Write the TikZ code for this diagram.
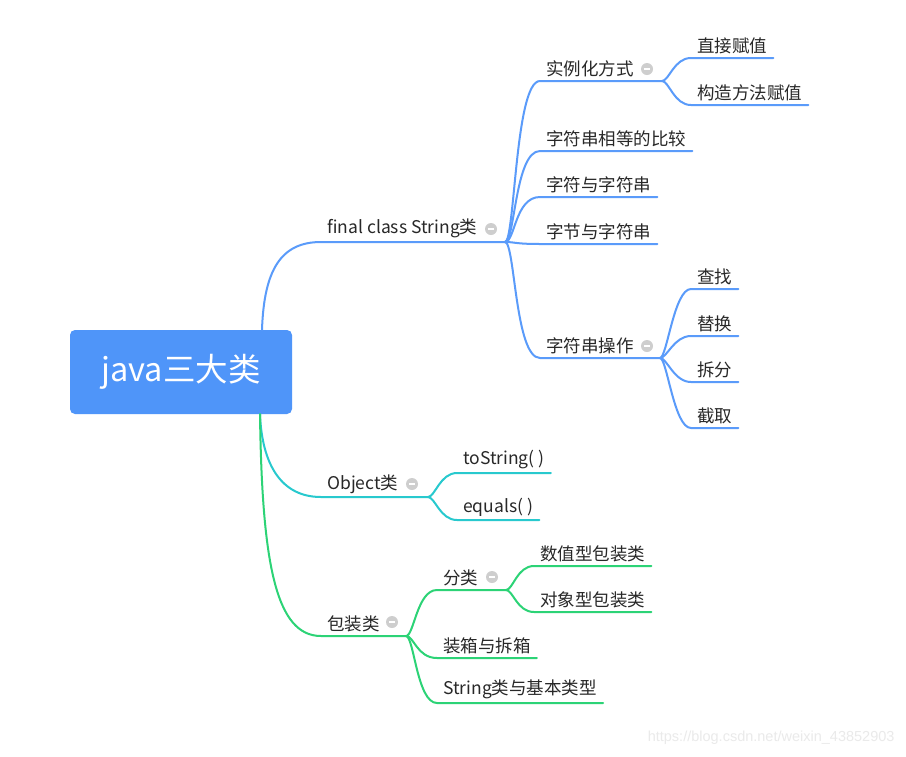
\documentclass[tikz,border=0pt]{standalone}
\usepackage{fontspec}
\setmainfont{Noto Sans CJK SC}
\newfontfamily\wmfont{Liberation Sans}
\definecolor{rootblue}{RGB}{79,149,249}
\definecolor{lineblue}{RGB}{90,155,250}
\definecolor{linecyan}{RGB}{40,201,206}
\definecolor{linegreen}{RGB}{44,211,118}
\definecolor{txt}{RGB}{40,40,40}
\definecolor{foldgray}{RGB}{206,206,206}
\definecolor{wmgray}{RGB}{234,234,234}

\begin{document}
\begin{tikzpicture}[x=1pt, y=-1pt,
    rootbox/.style={fill=rootblue, rounded corners=5pt, minimum width=222pt, minimum height=84pt,
        text=white, font=\fontsize{32.5}{32.5}\selectfont},
    topic/.style={anchor=south west, inner xsep=6pt, inner ysep=3.5pt, text=txt,
        font=\fontsize{17.5}{17.5}\selectfont},
    fold/.style={circle, fill=foldgray, minimum size=12pt, inner sep=0pt,
        path picture={\draw[white, line width=1.4pt]
            ([xshift=-3pt]path picture bounding box.center) -- ([xshift=3pt]path picture bounding box.center);}},
    bl/.style={lineblue, line width=2pt, line cap=round},
    cy/.style={linecyan, line width=2pt, line cap=round},
    gr/.style={linegreen, line width=2pt, line cap=round}]

    \fill[white] (0,0) rectangle (906,756);
    \useasboundingbox (0,0) rectangle (906,756);

    \node[rootbox] (root) at (181,372) {java三大类};

    \node[topic] (str) at (321,242) {final class String类};
    \node[fold] (strf) at (491,229) {};
    \coordinate (strend) at (505,242);
    \node[topic] (inst) at (540,81) {实例化方式};
    \node[fold] (instf) at (647,69) {};
    \coordinate (instend) at (662,81);
    \node[topic] (direct) at (691,58) {直接赋值};
    \node[topic] (ctor) at (691,105) {构造方法赋值};
    \node[topic] (equal) at (540,151) {字符串相等的比较};
    \node[topic] (chars) at (540,197) {字符与字符串};
    \node[topic] (bytes) at (540,244) {字节与字符串};
    \node[topic] (ops) at (540,358) {字符串操作};
    \node[fold] (opsf) at (647,346) {};
    \coordinate (opsend) at (660,358);
    \node[topic] (find) at (691,289) {查找};
    \node[topic] (repl) at (691,336) {替换};
    \node[topic] (split) at (691,382) {拆分};
    \node[topic] (cut) at (691,428) {截取};

    \node[topic] (obj) at (321,497) {Object类};
    \node[fold] (objf) at (412,484) {};
    \coordinate (objend) at (428,497);
    \node[topic] (tostr) at (457,473) {toString( )};
    \node[topic] (eq) at (457,520) {equals( )};

    \node[topic] (wrap) at (321,636) {包装类};
    \node[fold] (wrapf) at (392,622) {};
    \coordinate (wrapend) at (406,636);
    \node[topic] (kind) at (437,590) {分类};
    \node[fold] (kindf) at (492,577) {};
    \coordinate (kindend) at (506,590);
    \node[topic] (num) at (534,566) {数值型包装类};
    \node[topic] (objw) at (534,612) {对象型包装类};
    \node[topic] (box) at (437,658) {装箱与拆箱};
    \node[topic] (strbase) at (437,703) {String类与基本类型};

    \draw[bl] ([xshift=81pt]root.north) .. controls +(2,-60) and +(-40,0) .. (str.south west) -- (strend);
    \draw[bl] (strend) .. controls +(10,0) and +(-25,0) .. (inst.south west) -- (instend);
    \draw[bl] (strend) .. controls +(10,0) and +(-25,0) .. (ops.south west) -- (opsend);
    \foreach \n in {equal,chars,bytes}
        \draw[bl] (strend) .. controls +(10,0) and +(-25,0) .. (\n.south west) -- (\n.south east);
    \foreach \n in {direct,ctor}
        \draw[bl] (instend) .. controls +(7,0) and +(-17,0) .. (\n.south west) -- (\n.south east);
    \foreach \n in {find,repl,split,cut}
        \draw[bl] (opsend) .. controls +(7,0) and +(-17,0) .. (\n.south west) -- (\n.south east);

    \draw[cy] ([xshift=79pt]root.south) .. controls +(2,50) and +(-40,0) .. (obj.south west) -- (objend);
    \foreach \n in {tostr,eq}
        \draw[cy] (objend) .. controls +(7,0) and +(-17,0) .. (\n.south west) -- (\n.south east);

    \draw[gr] ([xshift=79pt]root.south) .. controls +(2,150) and +(-45,0) .. (wrap.south west) -- (wrapend);
    \draw[gr] (wrapend) .. controls +(8,0) and +(-20,0) .. (kind.south west) -- (kindend);
    \foreach \n in {box,strbase}
        \draw[gr] (wrapend) .. controls +(8,0) and +(-20,0) .. (\n.south west) -- (\n.south east);
    \foreach \n in {num,objw}
        \draw[gr] (kindend) .. controls +(7,0) and +(-17,0) .. (\n.south west) -- (\n.south east);

    \node[anchor=east, text=wmgray, font=\wmfont\fontsize{14.5}{14.5}\selectfont] (wm) at (898,738)
        {https://blog.csdn.net/weixin\_43852903};

\end{tikzpicture}
\end{document}
